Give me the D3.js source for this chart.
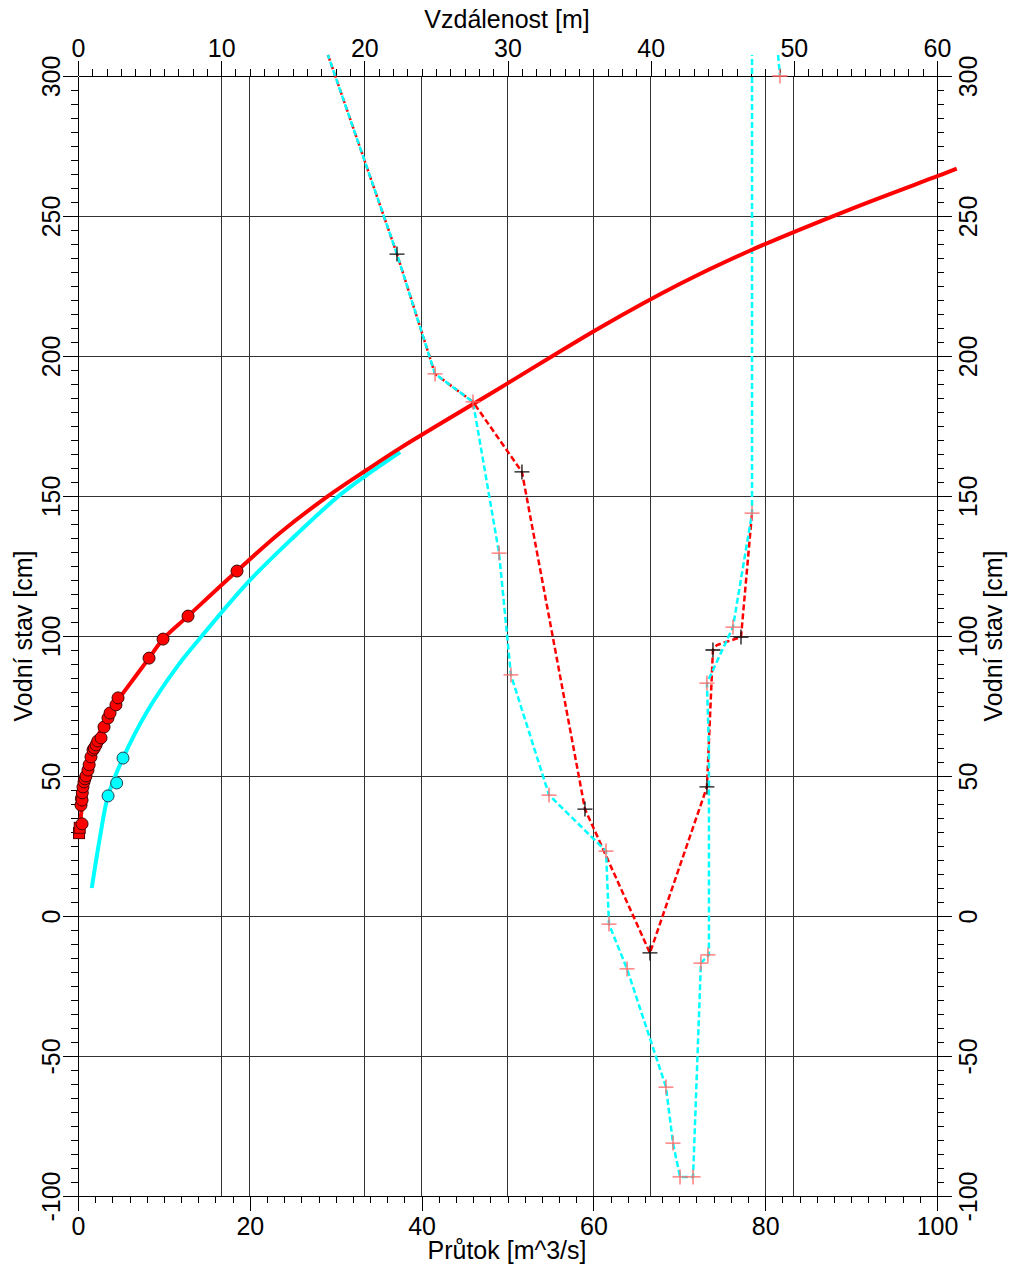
<!DOCTYPE html>
<html>
<head>
<meta charset="utf-8">
<script src="https://cdn.jsdelivr.net/npm/d3@7"></script>
<style>
  body { margin: 0; background: #fff; }
  svg { font-family: "Liberation Sans", Arial, sans-serif; }
</style>
</head>
<body>
<svg id="chart"></svg>
<script>
// rating curve (Q [m^3/s] vs H [cm])
const ratingQ = [0.1, 0.35, 0.6, 0.93, 1.4, 2.1, 3.0, 4.5, 5.24, 8.27, 9.9, 12.8, 18.5, 23.5, 29.3, 33.6, 37.5, 46.2, 50.1, 60.8, 70.1, 78.2, 89.9, 100.1, 102.3]
const ratingH = [29.6, 36, 43, 49, 55, 62, 69, 76.5, 79.6, 92.1, 98.9, 107.1, 123.2, 136.8, 150.4, 159.3, 167.1, 183.2, 190.4, 210.2, 225.8, 237.6, 252.4, 264.3, 266.9]

// second curve (cyan)
const fitQ = [1.6, 2.56, 3.5, 5.24, 8.0, 11.5, 14.2, 19.7, 25.0, 30.5, 33.6, 37.5]
const fitH = [10, 28.2, 42.9, 56.4, 72.8, 88.9, 99.2, 118.9, 135, 150.4, 157.5, 165.7]

// measurements
const measQ = [18.51, 12.81, 9.9, 8.27, 4.66, 4.42, 3.73, 3.49, 3.03, 2.68, 2.3, 2.1, 1.9, 1.75, 1.51, 1.3, 1.16, 0.93, 0.8, 0.7, 0.58, 0.5, 0.47, 0.4, 0.35, 0.47]
const measH = [123.2, 107.1, 98.9, 92.1, 77.9, 75.4, 72.5, 70.7, 67.5, 63.6, 62.5, 61.1, 60, 59.3, 56.8, 54, 52.1, 50, 49, 47.9, 46.1, 44, 41.4, 42, 39.6, 32.9]
const squareQ = [0.12, 0.2]
const squareH = [29.6, 31.5]
const cyanQ = [3.5, 4.5, 5.24]
const cyanH = [42.9, 47.5, 56.4]

// cross-section profiles (distance [m] vs H [cm])
const profADist = [17.46, 22.28, 23.96, 24.94, 27.59, 31.01, 35.41, 39.95, 43.93, 44.35, 44.63, 46.31, 47.08]
const profAH = [307.5, 236.4, 209.3, 193.6, 183.6, 158.6, 38.2, -13.2, 46.1, 95, 96.8, 99.6, 143.9]
const profBDist = [17.46, 22.28, 23.96, 24.94, 27.59, 29.41, 30.24, 32.9, 36.88, 37.09, 38.35, 41.07, 41.56, 42.05, 42.96, 43.51, 44.07, 44.07, 43.93, 45.75, 47.08, 47.08]
const profBH = [307.5, 236.4, 209.3, 193.6, 183.6, 129.6, 86.1, 43.2, 23.2, -2.9, -18.9, -61.1, -81.1, -93.2, -93.2, -16.8, -13.9, 60, 83.2, 103.2, 143.9, 307.5]
const profCDist = [48.9, 49.03]
const profCH = [307.5, 300]
const blackDist = [22.28, 31.01, 35.41, 39.95, 43.93, 44.35, 46.31]
const blackH = [236.4, 158.6, 38.2, -13.2, 46.1, 95, 99.6]
const pinkDist = [24.94, 27.59, 29.41, 30.24, 32.9, 36.88, 37.09, 38.35, 41.07, 41.56, 42.05, 42.96, 43.51, 44.0, 43.93, 45.75, 47.08, 49.03]
const pinkH = [193.6, 183.6, 129.6, 86.1, 43.2, 23.2, -2.9, -18.9, -61.1, -81.1, -93.2, -93.2, -16.8, -13.9, 83.2, 103.2, 143.9, 300]

// ticks
const qTicks = [0, 20, 40, 60, 80, 100]
const distTicks = [0, 10, 20, 30, 40, 50, 60]
const hTicks = [-100, -50, 0, 50, 100, 150, 200, 250, 300]

const width = 1010
const height = 1270

const svg = d3.select('#chart')
  .attr('width', width)
  .attr('height', height)

const x = d3.scaleLinear().domain([0, 100]).range([78, 937])
const xTop = d3.scaleLinear().domain([0, 60]).range([78, 937])
const y = d3.scaleLinear().domain([-100, 300]).range([1196, 76])

// grid
const grid = svg.append('g')
  .attr('stroke', '#333')
  .attr('shape-rendering', 'crispEdges')

grid.selectAll('.gq')
  .data(qTicks.slice(1, -1))
  .enter().append('line')
  .attr('x1', d => x(d)).attr('x2', d => x(d))
  .attr('y1', y(300)).attr('y2', y(-100))

grid.selectAll('.gd')
  .data(distTicks.slice(1, -1))
  .enter().append('line')
  .attr('x1', d => xTop(d)).attr('x2', d => xTop(d))
  .attr('y1', y(300)).attr('y2', y(-100))

grid.selectAll('.gh')
  .data(hTicks.slice(1, -1))
  .enter().append('line')
  .attr('x1', x(0)).attr('x2', x(100))
  .attr('y1', d => y(d)).attr('y2', d => y(d))

// axes
function styleAxis(g) {
  g.attr('font-size', 25).attr('font-family', '"Liberation Sans", Arial, sans-serif')
  g.selectAll('line, path').attr('stroke', '#000').attr('shape-rendering', 'crispEdges')
  g.selectAll('text').attr('fill', '#000')
}

const fmt = d => String(d)

svg.append('g')
  .attr('transform', `translate(0,${y(-100)})`)
  .call(d3.axisBottom(x).tickValues(d3.range(0, 101, 2)).tickSize(7).tickSizeOuter(0).tickFormat(''))
  .call(styleAxis)
svg.append('g')
  .attr('transform', `translate(0,${y(-100)})`)
  .call(d3.axisBottom(x).tickValues(qTicks).tickSize(15).tickSizeOuter(0).tickFormat(fmt))
  .call(styleAxis)
  .call(g => g.selectAll('text').attr('y', 21))

svg.append('g')
  .attr('transform', `translate(0,${y(300)})`)
  .call(d3.axisTop(xTop).tickValues(d3.range(0, 61, 1)).tickSize(7).tickSizeOuter(0).tickFormat(''))
  .call(styleAxis)
svg.append('g')
  .attr('transform', `translate(0,${y(300)})`)
  .call(d3.axisTop(xTop).tickValues(distTicks).tickSize(15).tickSizeOuter(0).tickFormat(fmt))
  .call(styleAxis)
  .call(g => g.selectAll('text').attr('y', -19))

svg.append('g')
  .attr('transform', `translate(${x(0)},0)`)
  .call(d3.axisLeft(y).tickValues(d3.range(-100, 301, 5)).tickSize(7).tickSizeOuter(0).tickFormat(''))
  .call(styleAxis)
svg.append('g')
  .attr('transform', `translate(${x(0)},0)`)
  .call(d3.axisLeft(y).tickValues(hTicks).tickSize(15).tickSizeOuter(0).tickFormat(fmt))
  .call(styleAxis)
  .call(g => g.selectAll('text')
    .attr('x', null).attr('dy', null)
    .attr('text-anchor', 'middle')
    .attr('transform', 'translate(-18,0) rotate(-90)'))

svg.append('g')
  .attr('transform', `translate(${x(100)},0)`)
  .call(d3.axisRight(y).tickValues(d3.range(-100, 301, 5)).tickSize(7).tickSizeOuter(0).tickFormat(''))
  .call(styleAxis)
svg.append('g')
  .attr('transform', `translate(${x(100)},0)`)
  .call(d3.axisRight(y).tickValues(hTicks).tickSize(15).tickSizeOuter(0).tickFormat(fmt))
  .call(styleAxis)
  .call(g => g.selectAll('text')
    .attr('x', null).attr('dy', null)
    .attr('text-anchor', 'middle')
    .attr('transform', 'translate(40,0) rotate(-90)'))

// axis titles
svg.append('text')
  .attr('x', 507).attr('y', 28)
  .attr('text-anchor', 'middle').attr('font-size', 25)
  .text('Vzdálenost [m]')
svg.append('text')
  .attr('x', 507).attr('y', 1259)
  .attr('text-anchor', 'middle').attr('font-size', 25)
  .text('Průtok [m^3/s]')
svg.append('text')
  .attr('transform', 'translate(32,636) rotate(-90)')
  .attr('text-anchor', 'middle').attr('font-size', 25)
  .text('Vodní stav [cm]')
svg.append('text')
  .attr('transform', 'translate(1002,636) rotate(-90)')
  .attr('text-anchor', 'middle').attr('font-size', 25)
  .text('Vodní stav [cm]')

// profiles
const profLine = d3.line().x(d => xTop(d[0])).y(d => y(d[1]))

svg.append('path')
  .datum(d3.zip(profADist, profAH))
  .attr('d', profLine)
  .attr('fill', 'none')
  .attr('stroke', '#ff0000')
  .attr('stroke-width', 2.5)
  .attr('stroke-dasharray', '6,3')

svg.append('path')
  .datum(d3.zip(profBDist, profBH))
  .attr('d', profLine)
  .attr('fill', 'none')
  .attr('stroke', '#00ffff')
  .attr('stroke-width', 2.5)
  .attr('stroke-dasharray', '6,3')
  .attr('stroke-dashoffset', 2)

svg.append('path')
  .datum(d3.zip(profCDist, profCH))
  .attr('d', profLine)
  .attr('fill', 'none')
  .attr('stroke', '#00ffff')
  .attr('stroke-width', 2.5)
  .attr('stroke-dasharray', '6,3')

// curves
const curveLine = d3.line().x(d => x(d[0])).y(d => y(d[1])).curve(d3.curveCatmullRom)

svg.append('path')
  .datum(d3.zip(fitQ, fitH))
  .attr('d', curveLine)
  .attr('fill', 'none')
  .attr('stroke', '#00ffff')
  .attr('stroke-width', 4)

svg.append('path')
  .datum(d3.zip(ratingQ, ratingH))
  .attr('d', curveLine)
  .attr('fill', 'none')
  .attr('stroke', '#ff0000')
  .attr('stroke-width', 4)

// measured points
svg.append('g').selectAll('rect')
  .data(d3.zip(squareQ, squareH))
  .enter().append('rect')
  .attr('x', d => x(d[0]) - 5.5)
  .attr('y', d => y(d[1]) - 5.5)
  .attr('width', 11).attr('height', 11)
  .attr('fill', '#ff0000')
  .attr('stroke', '#500')

svg.append('g').selectAll('circle')
  .data(d3.zip(measQ, measH).reverse())
  .enter().append('circle')
  .attr('cx', d => x(d[0]))
  .attr('cy', d => y(d[1]))
  .attr('r', 6)
  .attr('fill', '#ff0000')
  .attr('stroke', '#400')

svg.append('g').selectAll('circle')
  .data(d3.zip(cyanQ, cyanH))
  .enter().append('circle')
  .attr('cx', d => x(d[0]))
  .attr('cy', d => y(d[1]))
  .attr('r', 6)
  .attr('fill', '#00ffff')
  .attr('stroke', '#245')

// crosses
const cross = 'M-7.5,0H7.5M0,-7.5V7.5'

svg.append('g').selectAll('path')
  .data(d3.zip(pinkDist, pinkH))
  .enter().append('path')
  .attr('d', cross)
  .attr('transform', d => `translate(${xTop(d[0])},${y(d[1])})`)
  .attr('stroke', '#ff6a6a')
  .attr('stroke-width', 1.3)

svg.append('g').selectAll('path')
  .data(d3.zip(blackDist, blackH))
  .enter().append('path')
  .attr('d', cross)
  .attr('transform', d => `translate(${xTop(d[0])},${y(d[1])})`)
  .attr('stroke', '#111')
  .attr('stroke-width', 1.3)
</script>
</body>
</html>
